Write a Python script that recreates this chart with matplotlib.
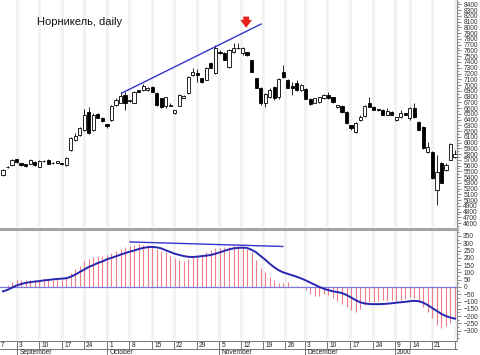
import numpy as np
import matplotlib.pyplot as plt
from matplotlib.lines import Line2D
from matplotlib.ticker import MultipleLocator

plt.rcParams['font.family'] = ['Liberation Sans', 'DejaVu Sans']

### -------------------------------------------- data
title = 'Норникель, daily'

opens = [5440, 5570, 5610, 5710, 5640, 5620, 5630, 5660, 5580, 5670,
         5700, 5650, 5650, 5640, 5610, 5870, 6040, 6130, 6220, 6530,
         6220, 6500, 6430, 6320, 6390, 6650, 6690, 6830, 6720, 6690,
         6910, 6910, 6910, 6970, 6860, 6770, 6640, 6640, 6510, 6640,
         6780, 6860, 7180, 7210, 7120, 7090, 7380, 7210, 7570, 7560,
         7310, 7570, 7640, 7560, 7570, 7430, 7120, 6950, 6690, 6790,
         6960, 6790, 7230, 7090, 6980, 7030, 6910, 6930, 6760, 6690,
         6700, 6770, 6830, 6790, 6620, 6640, 6530, 6300, 6180, 6390,
         6460, 6690, 6620, 6580, 6570, 6480, 6530, 6390, 6440, 6510,
         6430, 6600, 6360, 6270, 5840, 5840, 5170, 5640, 5520, 5700,
         5750]
closes = [5520, 5580, 5700, 5660, 5610, 5590, 5700, 5610, 5680, 5680,
          5630, 5640, 5670, 5620, 5730, 6080, 6110, 6250, 6480, 6170,
          6480, 6430, 6370, 6290, 6640, 6740, 6810, 6690, 6730, 6880,
          6880, 6980, 6950, 6880, 6650, 6620, 6790, 6660, 6560, 6830,
          6810, 7140, 7230, 7170, 7050, 7300, 7300, 7640, 7550, 7440,
          7610, 7640, 7650, 7640, 7520, 7230, 6950, 6690, 6840, 6910,
          6770, 7100, 7140, 6950, 6950, 6910, 7000, 6760, 6670, 6770,
          6790, 6830, 6770, 6700, 6650, 6530, 6340, 6250, 6340, 6440,
          6630, 6620, 6570, 6560, 6480, 6550, 6480, 6440, 6510, 6480,
          6600, 6440, 6220, 5900, 5920, 5380, 5490, 5300, 5610, 5970,
          5800]
highs = [5540, 5600, 5720, 5720, 5650, 5630, 5710, 5670, 5690, 5700,
         5720, 5660, 5680, 5650, 5740, 6100, 6160, 6270, 6580, 6620,
         6520, 6520, 6440, 6330, 6660, 6770, 6880, 6870, 6740, 6900,
         6920, 7010, 6960, 6990, 6870, 6780, 6800, 6680, 6570, 6850,
         6830, 7160, 7300, 7280, 7130, 7320, 7400, 7690, 7600, 7570,
         7620, 7730, 7730, 7660, 7580, 7440, 7130, 6960, 6860, 6940,
         6980, 7130, 7350, 7100, 7060, 7080, 7010, 6940, 6770, 6780,
         6800, 6850, 6880, 6800, 6660, 6650, 6540, 6310, 6360, 6480,
         6650, 6790, 6630, 6590, 6580, 6600, 6540, 6450, 6560, 6520,
         6620, 6690, 6370, 6280, 6010, 5850, 5780, 5660, 5640, 5990,
         5870]
lows = [5420, 5560, 5600, 5650, 5600, 5580, 5620, 5600, 5570, 5660,
        5620, 5630, 5640, 5610, 5600, 5860, 6020, 6120, 6200, 6150,
        6200, 6420, 6360, 6250, 6380, 6640, 6680, 6570, 6700, 6680,
        6870, 6900, 6900, 6870, 6630, 6600, 6600, 6630, 6500, 6630,
        6770, 6850, 7160, 7050, 7040, 7080, 7290, 7200, 7540, 7430,
        7300, 7560, 7620, 7520, 7510, 7220, 6940, 6650, 6620, 6780,
        6740, 6760, 7130, 6940, 6830, 6900, 6900, 6750, 6660, 6680,
        6690, 6760, 6760, 6690, 6600, 6520, 6330, 6210, 6170, 6380,
        6450, 6610, 6560, 6550, 6470, 6470, 6470, 6380, 6430, 6470,
        6400, 6430, 6210, 5890, 5820, 5370, 4910, 5290, 5510, 5690,
        5730]

# MACD bars and its signal line
macd_hist = [0, 15, 35, 45, 48, 50, 50, 48, 50, 52,
             50, 50, 52, 50, 60, 95, 125, 145, 175, 190,
             205, 210, 215, 220, 235, 250, 262, 272, 280, 290,
             292, 290, 285, 275, 262, 250, 238, 222, 200, 188,
             175, 195, 205, 212, 222, 240, 255, 265, 268, 272,
             275, 280, 282, 275, 262, 240, 185, 130, 103, 65,
             45, 30, 28, 35, 10, 5, 0, -20, -45, -65,
             -60, -50, -55, -75, -95, -115, -135, -158, -172, -148,
             -125, -105, -100, -95, -92, -95, -92, -95, -90, -80,
             -72, -75, -105, -140, -175, -215, -260, -282, -265, -245,
             -215]
macd_signal = [-30, -20, -5, 10, 20, 28, 33, 37, 40, 45,
               48, 52, 55, 57, 60, 70, 85, 103, 120, 138,
               150, 165, 175, 190, 200, 210, 222, 232, 242, 250,
               260, 268, 273, 275, 272, 265, 252, 240, 228, 220,
               212, 207, 206, 208, 212, 215, 220, 228, 238, 248,
               258, 265, 268, 270, 268, 255, 238, 212, 188, 160,
               135, 115, 100, 90, 80, 70, 58, 45, 30, 15,
               0, -12, -22, -30, -35, -42, -55, -72, -90, -105,
               -113, -117, -118, -118, -117, -115, -112, -108, -105, -102,
               -98, -95, -98, -108, -125, -145, -165, -185, -200, -210,
               -218]

# hand drawn lines (day index, value)
trend_x, trend_y = [26.3, 57.1], [6860, 8060]
div_x, div_y = [28.1, 61.9], [309, 278]
arrow_x, arrow_top, arrow_tip = 53.8, 8190, 7995

# weekly separators (day index) and their labels
week_ticks = [-1.8, 3.1, 8.0, 13.1, 17.9, 23.0, 27.9, 33.0, 37.8, 42.9, 47.8,
              52.7, 57.5, 62.4, 66.8, 71.7, 76.8, 81.9, 86.7, 90.0, 94.9, 100.0]
week_labels = ['7', '3', '10', '17', '24', '1', '8', '15', '22', '29', '5',
               '12', '19', '26', '3', '10', '17', '24', '9', '14', '21', '']
month_ticks = [3.1, 23.0, 47.8, 66.8, 86.7]
month_labels = ['September', 'October', 'November', 'December', '2000']

### -------------------------------------------- layout helpers
W, H = 480, 355
fig = plt.figure(figsize=(W / 100, H / 100), dpi=100)


def px_axes(x0, y0, x1, y1):
    return fig.add_axes([x0 / W, 1 - y1 / H, (x1 - x0) / W, (y1 - y0) / H])


def style_panel(ax, ylim, major, minor):
    ax.set_xlim(-0.66, 100.44)
    ax.set_ylim(*ylim)
    for t in week_ticks:
        ax.axvline(t, color='#f1f1f1', lw=2.0, zorder=0)
    for s in ['left', 'top', 'bottom']:
        ax.spines[s].set_visible(False)
    ax.spines['right'].set_color('#8c8c8c')
    ax.spines['right'].set_linewidth(0.8)
    ax.set_xticks([])
    ax.yaxis.tick_right()
    ax.yaxis.set_major_locator(MultipleLocator(major))
    ax.yaxis.set_minor_locator(MultipleLocator(minor))
    ax.tick_params(axis='y', which='major', labelsize=4.8, length=3, width=0.5,
                   colors='#555555', labelcolor='#333333', pad=1.5)
    ax.tick_params(axis='y', which='minor', length=1.5, width=0.5, colors='#555555')


days = np.arange(len(opens))
o = np.array(opens)
c = np.array(closes)

### -------------------------------------------- price panel
ax1 = px_axes(0, 0, 457, 227)
style_panel(ax1, (4531, 8478), 100, 50)
ax1.set_yticks(np.arange(4600, 8401, 100))

ax1.vlines(days, lows, highs, color='black', lw=0.6, zorder=2)
body_lo = np.minimum(o, c)
body_h = np.maximum(np.abs(c - o), 12)
ax1.bar(days, body_h, bottom=body_lo, width=0.7,
        color=np.where(c >= o, 'white', 'black'),
        edgecolor='black', linewidth=0.6, zorder=3)

ax1.plot(trend_x, trend_y, color='#3434cc', lw=1.0, zorder=4)
ax1.annotate('', xy=(arrow_x, arrow_tip), xytext=(arrow_x, arrow_top),
             arrowprops=dict(arrowstyle='simple,head_width=0.6,head_length=0.4,tail_width=0.3',
                             color='#e8201c', lw=0, mutation_scale=14, shrinkA=0, shrinkB=0))
fig.text(37 / W, 1 - 22 / H, title, fontsize=8, ha='left', va='center', color='#111111')

# grey separator between the panels
fig.add_artist(Line2D([0, 457 / W], [1 - 228.5 / H] * 2, color='#a4a4a4', lw=2.2))

### -------------------------------------------- MACD panel
ax2 = px_axes(0, 230, 457, 340)
style_panel(ax2, (-364, 391), 50, 25)
ax2.set_yticks(np.arange(-300, 351, 50))
ax2.vlines(days, 0, macd_hist, color='#ee7d8c', lw=0.8, zorder=2)
ax2.axhline(0, color='#7a7ae0', lw=0.9, zorder=3)
ax2.plot(days, macd_signal, color='#2626b0', lw=1.4, zorder=4)
ax2.plot(div_x, div_y, color='#3434cc', lw=1.0, zorder=4)

### -------------------------------------------- date strip
ax3 = px_axes(0, 340, 457, 355)
ax3.set_xlim(-0.66, 100.44)
ax3.set_ylim(15, 0)
ax3.axis('off')
ax3.plot([-0.66, 100.44], [1, 1], color='#606060', lw=0.6, clip_on=False)
ax3.plot([-0.66, 100.44], [9, 9], color='#606060', lw=0.6, clip_on=False)
ax3.vlines(week_ticks, 1, 9, color='#606060', lw=0.6)
ax3.vlines(month_ticks, 9, 15, color='#606060', lw=0.6)
for t, lab in zip(week_ticks, week_labels):
    x = max(t + 0.5, -0.5)
    ax3.text(x, 5.2, lab, fontsize=4.8, ha='left', va='center', color='#222222', clip_on=False)
for t, lab in zip(month_ticks, month_labels):
    ax3.text(t + 0.5, 12.5, lab, fontsize=4.8, ha='left', va='center', color='#222222', clip_on=False)

plt.savefig('out.png', dpi=100)
plt.close()
